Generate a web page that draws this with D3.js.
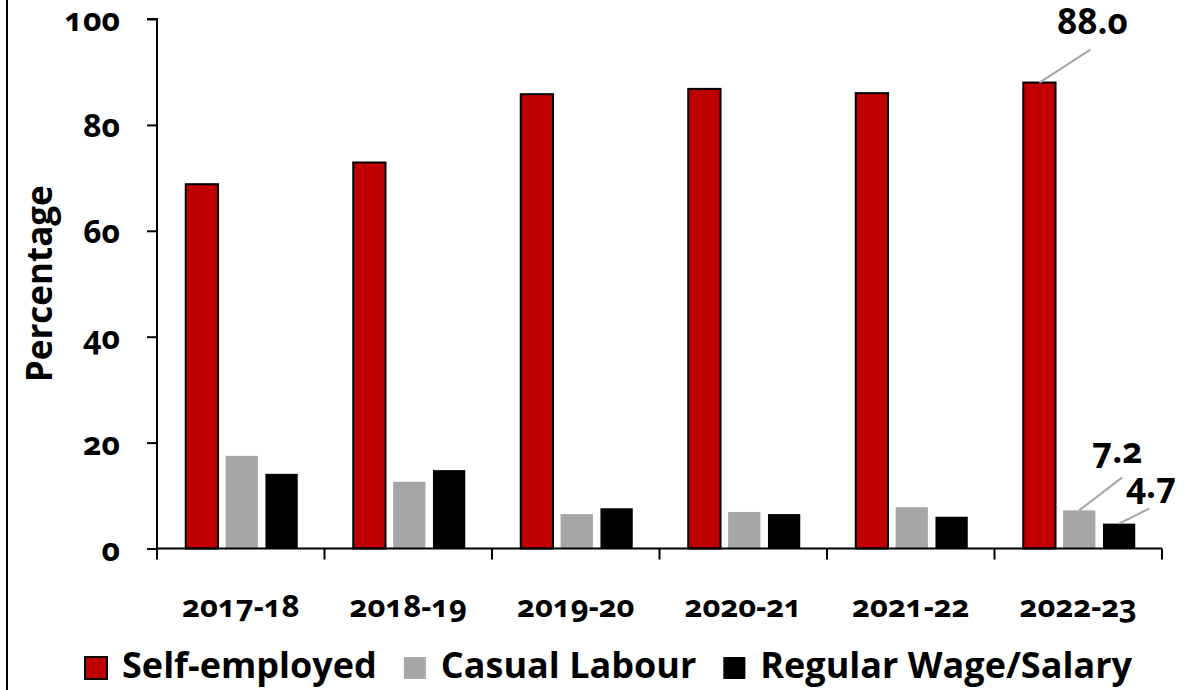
<!DOCTYPE html>
<html>
<head>
<meta charset="utf-8">
<script src="https://cdn.jsdelivr.net/npm/d3@7/dist/d3.min.js"></script>
<style>
  html, body { margin: 0; padding: 0; background: #fff; }
  svg { display: block; }
  text { font-family: "Open Sans", "Lato", sans-serif; font-weight: 700; fill: #000; font-variant-numeric: oldstyle-nums; font-feature-settings: "onum" 1; }
</style>
</head>
<body>
<svg id="chart" width="1193" height="690"></svg>
<script>
const categories = ["2017-18", "2018-19", "2019-20", "2020-21", "2021-22", "2022-23"];
const seriesNames = ["Self-employed", "Casual Labour", "Regular Wage/Salary"];
const selfEmployed = [68.8, 72.9, 85.8, 86.8, 86.0, 88.0];
const casualLabour = [17.5, 12.6, 6.5, 6.9, 7.8, 7.2];
const regularWage = [14.1, 14.8, 7.6, 6.5, 6.0, 4.7];
const yTicks = [0, 20, 40, 60, 80, 100];
const yTitle = "Percentage";
// labelled points: [series index, category index, text]
const callouts = [[0, 5, "88.0"], [1, 5, "7.2"], [2, 5, "4.7"]];

const colors = ["#C00000", "#A6A6A6", "#000000"];
const allSeries = [selfEmployed, casualLabour, regularWage];

const svg = d3.select("#chart");
const plot = { left: 157, right: 1162, top: 19, bottom: 548.5 };

const x0 = d3.scaleBand().domain(categories).range([plot.left, plot.right]).padding(0);
const x1 = d3.scaleBand().domain(d3.range(3)).range([-56, 56]).paddingInner(0.19).paddingOuter(0);
const y = d3.scaleLinear().domain([0, 100]).range([plot.bottom, plot.top]);

// left frame line
svg.append("line").attr("x1", 7).attr("x2", 7).attr("y1", 0).attr("y2", 690)
  .attr("stroke", "#000").attr("stroke-width", 2);

// bars
const groups = svg.append("g").selectAll("g").data(categories).join("g")
  .attr("transform", d => `translate(${x0(d) + x0.bandwidth() / 2 + 1},0)`);
groups.selectAll("rect").data((d, ci) => allSeries.map((s, si) => ({ si, v: s[ci] }))).join("rect")
  .attr("x", d => x1(d.si))
  .attr("width", x1.bandwidth())
  .attr("y", d => y(d.v))
  .attr("height", d => y(0) - y(d.v))
  .attr("fill", d => colors[d.si])
  .attr("stroke", d => d.si === 0 ? "#000" : "none")
  .attr("stroke-width", 2);

// y axis
const yAxis = d3.axisLeft(y).tickValues(yTicks).tickSize(10).tickPadding(27).tickFormat(d3.format("d"));
const gy = svg.append("g").attr("transform", `translate(${plot.left},0)`).call(yAxis);
gy.select(".domain").attr("stroke", "#000").attr("stroke-width", 2).attr("d", `M-10,${y(100)}H0V${y(0)}`);
gy.selectAll(".tick line").attr("stroke", "#000").attr("stroke-width", 2);
gy.selectAll(".tick text").style("font-size", "32px").attr("dy", "0.36em");

// x axis
const xAxis = d3.axisBottom(x0).tickSize(0).tickPadding(46);
const gx = svg.append("g").attr("transform", `translate(0,${plot.bottom})`).call(xAxis);
gx.select(".domain").attr("stroke", "#000").attr("stroke-width", 2).attr("d", `M${plot.left},0H${plot.right}`);
gx.selectAll(".tick text").style("font-size", "31px");
// boundary ticks
const bounds = categories.map(c => x0(c)).concat([plot.right]);
gx.append("g").selectAll("line").data(bounds).join("line")
  .attr("x1", d => d).attr("x2", d => d).attr("y1", 0).attr("y2", 11)
  .attr("stroke", "#000").attr("stroke-width", 2);

// y title
svg.append("text")
  .attr("transform", `translate(52,${(plot.top + plot.bottom) / 2}) rotate(-90)`)
  .attr("text-anchor", "middle")
  .style("font-size", "35px")
  .text(yTitle);

// callouts
const calloutOffsets = [
  { lx: 51, ly: -33, tx: 53, ty: -49 },
  { lx: 43, ly: -33, tx: 38, ty: -47 },
  { lx: 30, ly: -15, tx: 32, ty: -26 }
];
callouts.forEach(([si, ci, txt], i) => {
  const bx = x0(categories[ci]) + x0.bandwidth() / 2 + 1 + x1(si) + x1.bandwidth() / 2;
  const by = y(allSeries[si][ci]);
  const o = calloutOffsets[i];
  svg.append("line")
    .attr("x1", bx).attr("y1", by)
    .attr("x2", bx + o.lx).attr("y2", by + o.ly)
    .attr("stroke", "#A6A6A6").attr("stroke-width", 2);
  svg.append("text")
    .attr("x", bx + o.tx).attr("y", by + o.ty)
    .attr("text-anchor", "middle")
    .style("font-size", "35px")
    .text(txt);
});

// legend
const legend = svg.append("g");
let lx = 0;
seriesNames.forEach((name, i) => {
  const g = legend.append("g");
  g.append("rect").attr("x", lx).attr("y", 657).attr("width", 22).attr("height", 22)
    .attr("fill", colors[i])
    .attr("stroke", i === 0 ? "#000" : "none").attr("stroke-width", 2);
  const t = g.append("text").attr("x", lx + 37).attr("y", 678).style("font-size", "36px").text(name);
  const w = t.node().getComputedTextLength();
  lx += 37 + w + 27;
});
const totalW = lx - 27;
legend.attr("transform", `translate(${608.5 - totalW / 2},0)`);
</script>
</body>
</html>
